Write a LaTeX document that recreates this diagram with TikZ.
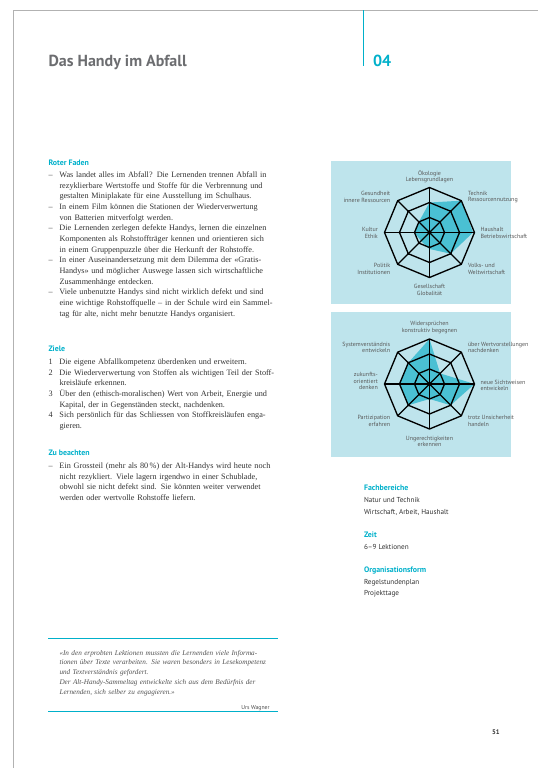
\documentclass[tikz,border=0pt]{standalone}
\usepackage{fontspec}
\setmainfont{Liberation Serif}
\setsansfont{PT Sans}

\definecolor{faden}{RGB}{0,176,202}
\definecolor{titelgrau}{RGB}{108,109,112}
\definecolor{textgrau}{RGB}{50,50,50}
\definecolor{netzgrund}{RGB}{190,228,236}
\definecolor{netzfuell}{RGB}{74,192,211}

\tikzset{every picture/.style={line width=0.75pt}}
\tikzset{
  rubrik/.style={anchor=base west,inner sep=0pt,font=\sffamily\bfseries\fontsize{5.9}{7}\selectfont,text=faden},
  fliesstext/.style={anchor=base west,inner sep=0pt,text width=174pt,text=textgrau,
    font=\fontsize{6.15}{8}\selectfont},
  netzlabel/.style={inner sep=0pt,font=\sffamily\fontsize{4.5}{4.9}\selectfont,text=black!65},
  netzlinie/.style={line width=1pt,line join=miter},
  seitentext/.style={anchor=base west,inner sep=0pt,font=\sffamily\fontsize{5.4}{8.5}\selectfont,text=textgrau},
}

% Satzregeln fuer den Blocksatz
\newcommand{\satzregeln}{\hyphenpenalty=10000 \exhyphenpenalty=10000 \tolerance=9999 }
% Listenpunkt mit haengendem Einzug
\newcommand{\punkt}[2]{\noindent\hangindent=8.25pt\hangafter=1\makebox[8.25pt][l]{#1}#2\par}

\begin{document}
\begin{tikzpicture}[x=0.75pt,y=0.75pt,yscale=-1,xscale=1]
\useasboundingbox (0,0) rectangle (538,768);

%Straight Lines [page frame]
\draw [color=black!30]   (13,768) -- (13,10) -- (538,10) ;
%Straight Lines [separator]
\draw [color=faden]   (363.5,10) -- (363.5,66) ;

% Text Node
\draw (48,66) node (titel) [anchor=base west][inner sep=0pt] [font=\sffamily\bfseries\fontsize{12}{14}\selectfont,text=titelgrau]  {Das Handy im Abfall};
% Text Node
\draw (372.5,66) node (nummer) [anchor=base west][inner sep=0pt] [font=\sffamily\bfseries\fontsize{12}{14}\selectfont,text=faden]  {04};

% Text Node
\draw (48,165.5) node (fadenkopf) [rubrik]  {Roter Faden};
% Text Node
\draw (48,177.5) node (faden) [fliesstext]  {\satzregeln
\punkt{–}{Was landet alles im Abfall? Die Lernenden trennen Abfall in\linebreak rezyklierbare Wertstoffe und Stoffe für die Verbrennung und\linebreak gestalten Miniplakate für eine Ausstellung im Schulhaus.}
\punkt{–}{In einem Film können die Stationen der Wiederverwertung\linebreak von Batterien mitverfolgt werden.}
\punkt{–}{Die Lernenden zerlegen defekte Handys, lernen die einzelnen\linebreak Komponenten als Rohstoffträger kennen und orientieren sich\linebreak in einem Gruppenpuzzle über die Herkunft der Rohstoffe.}
\punkt{–}{In einer Auseinandersetzung mit dem Dilemma der «Gratis-\linebreak Handys» und möglicher Auswege lassen sich wirtschaftliche\linebreak Zusammenhänge entdecken.}
\punkt{–}{Viele unbenutzte Handys sind nicht wirklich defekt und sind\linebreak eine wichtige Rohstoffquelle – in der Schule wird ein Sammel-\linebreak tag für alte, nicht mehr benutzte Handys organisiert.}};

% Text Node
\draw (48,351.5) node (zielekopf) [rubrik]  {Ziele};
% Text Node
\draw (48,364.5) node (ziele) [fliesstext]  {\satzregeln
\punkt{1}{Die eigene Abfallkompetenz überdenken und erweitern.}
\punkt{2}{Die Wiederverwertung von Stoffen als wichtigen Teil der Stoff-\linebreak kreisläufe erkennen.}
\punkt{3}{Über den (ethisch-moralischen) Wert von Arbeit, Energie und\linebreak Kapital, der in Gegenständen steckt, nachdenken.}
\punkt{4}{Sich persönlich für das Schliessen von Stoffkreisläufen enga-\linebreak gieren.}};

% Text Node
\draw (48,455.5) node (beachtenkopf) [rubrik]  {Zu beachten};
% Text Node
\draw (48,468.5) node (beachten) [fliesstext]  {\satzregeln
\punkt{–}{Ein Grossteil (mehr als 80\,\%) der Alt-Handys wird heute noch\linebreak nicht rezykliert. Viele lagern irgendwo in einer Schublade,\linebreak obwohl sie nicht defekt sind. Sie könnten weiter verwendet\linebreak werden oder wertvolle Rohstoffe liefern.}};

%Straight Lines [quote top]
\draw [color=faden]   (48,638) -- (278,638) ;
%Straight Lines [quote bottom]
\draw [color=faden]   (48,711) -- (278,711) ;
% Text Node
\draw (59,655) node (zitat) [anchor=base west][inner sep=0pt] [text width=156.75pt,text=black!68,
  font=\itshape\fontsize{5.4}{7.35}\selectfont]  {\satzregeln
\noindent«In den erprobten Lektionen mussten die Lernenden viele Informa-\linebreak tionen über Texte verarbeiten. Sie waren besonders in Lesekompetenz\linebreak und Textverständnis gefordert.\par
\noindent Der Alt-Handy-Sammeltag entwickelte sich aus dem Bedürfnis der\linebreak Lernenden, sich selber zu engagieren.»\par};
% Text Node
\draw (270,709) node (autor) [anchor=base east][inner sep=0pt] [font=\sffamily\fontsize{4.3}{5}\selectfont,text=black!70]  {Urs Wagner};

%Shape: Rectangle [chart 1 background]
\fill [netzgrund] (331,161) rectangle (511,304) ;
%Shape: Polygon [chart 1 values]
\fill [netzfuell] (429.5,202.5) -- (461.32,200.68) -- (473,232.5) -- (450.71,253.71) -- (429.5,249) -- (421.01,240.99) -- (414.5,232.5) -- (418.89,221.89) -- cycle ;
%Shape: Polygon [outer ring]
\draw [netzlinie] (429.5,187.5) -- (461.32,200.68) -- (474.5,232.5) -- (461.32,264.32) -- (429.5,277.5) -- (397.68,264.32) -- (384.5,232.5) -- (397.68,200.68) -- cycle ;
%Shape: Polygon [middle ring]
\draw [netzlinie] (429.5,202.5) -- (450.71,211.29) -- (459.5,232.5) -- (450.71,253.71) -- (429.5,262.5) -- (408.29,253.71) -- (399.5,232.5) -- (408.29,211.29) -- cycle ;
%Shape: Polygon [inner ring]
\draw [netzlinie] (429.5,217.5) -- (440.11,221.89) -- (444.5,232.5) -- (440.11,243.11) -- (429.5,247.5) -- (418.89,243.11) -- (414.5,232.5) -- (418.89,221.89) -- cycle ;
%Straight Lines [spokes]
\draw [netzlinie] (429.5,187.5) -- (429.5,277.5) ;
\draw [netzlinie] (384.5,232.5) -- (474.5,232.5) ;
\draw [netzlinie] (397.68,200.68) -- (461.32,264.32) ;
\draw [netzlinie] (461.32,200.68) -- (397.68,264.32) ;
%Shape: Circle
\fill (429.5,232.5) circle (2) ;
\fill (450.71,211.29) circle (1.1) (459.5,232.5) circle (1.1) (450.71,253.71) circle (1.1) (408.29,253.71) circle (1.1) (399.5,232.5) circle (1.1) (408.29,211.29) circle (1.1) ;

% Text Node
\draw (429.5,176.5) node (oeko) [netzlabel][align=center]  {Ökologie\\Lebensgrundlagen};
% Text Node
\draw (467.5,197) node (technik) [netzlabel][anchor=west][align=left]  {Technik\\Ressourcennutzung};
% Text Node
\draw (480,233) node (haushalt) [netzlabel][anchor=west][align=left]  {Haushalt\\Betriebswirtschaft};
% Text Node
\draw (467.5,269) node (volks) [netzlabel][anchor=west][align=left]  {Volks- und\\Weltwirtschaft};
% Text Node
\draw (429.5,289.7) node (gesell) [netzlabel][align=center]  {Gesellschaft\\Globalität};
% Text Node
\draw (390.7,269) node (politik) [netzlabel][anchor=east][align=right]  {Politik\\Institutionen};
% Text Node
\draw (378.3,233) node (kultur) [netzlabel][anchor=east][align=right]  {Kultur\\Ethik};
% Text Node
\draw (390.7,197) node (gesund) [netzlabel][anchor=east][align=right]  {Gesundheit\\innere Ressourcen};

%Shape: Rectangle [chart 2 background]
\fill [netzgrund] (331,312) rectangle (511,457) ;
%Shape: Polygon [chart 2 values]
\fill [netzfuell] (429.5,339) -- (440.11,373.39) -- (474.5,384) -- (450.71,405.21) -- (429.5,399) -- (408.29,405.21) -- (399.5,384) -- (408.29,362.79) -- cycle ;
%Shape: Polygon [outer ring]
\draw [netzlinie] (429.5,339) -- (461.32,352.18) -- (474.5,384) -- (461.32,415.82) -- (429.5,429) -- (397.68,415.82) -- (384.5,384) -- (397.68,352.18) -- cycle ;
%Shape: Polygon [middle ring]
\draw [netzlinie] (429.5,354) -- (450.71,362.79) -- (459.5,384) -- (450.71,405.21) -- (429.5,414) -- (408.29,405.21) -- (399.5,384) -- (408.29,362.79) -- cycle ;
%Shape: Polygon [inner ring]
\draw [netzlinie] (429.5,369) -- (440.11,373.39) -- (444.5,384) -- (440.11,394.61) -- (429.5,399) -- (418.89,394.61) -- (414.5,384) -- (418.89,373.39) -- cycle ;
%Straight Lines [spokes]
\draw [netzlinie] (429.5,339) -- (429.5,429) ;
\draw [netzlinie] (384.5,384) -- (474.5,384) ;
\draw [netzlinie] (397.68,352.18) -- (461.32,415.82) ;
\draw [netzlinie] (461.32,352.18) -- (397.68,415.82) ;
%Shape: Circle
\fill (429.5,384) circle (2) ;
\fill (450.71,362.79) circle (1.1) (459.5,384) circle (1.1) (450.71,405.21) circle (1.1) (408.29,405.21) circle (1.1) (399.5,384) circle (1.1) (408.29,362.79) circle (1.1) ;

% Text Node
\draw (429.5,327.5) node (widerspr) [netzlabel][align=center]  {Widersprüchen\\konstruktiv begegnen};
% Text Node
\draw (467.5,347.5) node (wertvor) [netzlabel][anchor=west][align=left]  {über Wertvorstellungen\\nachdenken};
% Text Node
\draw (480,385.3) node (sichtw) [netzlabel][anchor=west][align=left]  {neue Sichtweisen\\entwickeln};
% Text Node
\draw (467.5,421) node (unsicher) [netzlabel][anchor=west][align=left]  {trotz Unsicherheit\\handeln};
% Text Node
\draw (429.5,441.3) node (ungerecht) [netzlabel][align=center]  {Ungerechtigkeiten\\erkennen};
% Text Node
\draw (390.7,421) node (partizip) [netzlabel][anchor=east][align=right]  {Partizipation\\erfahren};
% Text Node
\draw (378.3,381.3) node (zukunft) [netzlabel][anchor=east][align=right]  {zukunfts-\\orientiert\\denken};
% Text Node
\draw (390.7,347.5) node (system) [netzlabel][anchor=east][align=right]  {Systemverständnis\\entwickeln};

% Text Node
\draw (363.5,490.5) node (fachkopf) [rubrik]  {Fachbereiche};
% Text Node
\draw (363.5,514) node (fach) [seitentext][align=left]  {Natur und Technik\\Wirtschaft, Arbeit, Haushalt};
% Text Node
\draw (363.5,537.5) node (zeitkopf) [rubrik]  {Zeit};
% Text Node
\draw (363.5,549) node (zeit) [seitentext]  {6–9 Lektionen};
% Text Node
\draw (363.5,572.5) node (orgakopf) [rubrik]  {Organisationsform};
% Text Node
\draw (363.5,595.5) node (orga) [seitentext][align=left]  {Regelstundenplan\\Projekttage};

% Text Node
\draw (491.5,734.5) node (seite) [anchor=base west][inner sep=0pt] [font=\sffamily\bfseries\fontsize{5}{6}\selectfont,text=black!80]  {51};

\end{tikzpicture}
\end{document}
